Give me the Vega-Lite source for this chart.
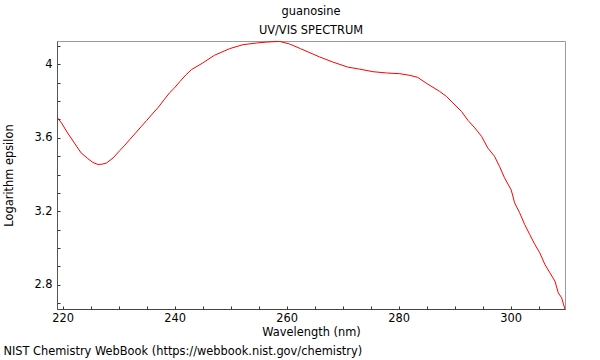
{
  "$schema": "https://vega.github.io/schema/vega-lite/v6.json",
  "padding": {"left": 3, "top": 5, "right": 34, "bottom": 0},
  "title": {"text": "NIST Chemistry WebBook (https://webbook.nist.gov/chemistry)", "orient": "bottom", "anchor": "start", "fontSize": 11.4, "fontWeight": "normal", "font": "DejaVu Sans", "color": "#000", "offset": 8},
  "vconcat": [
    {
      "width": 508,
      "height": 268,
      "title": {"text": "guanosine", "subtitle": "UV/VIS SPECTRUM", "fontSize": 11.4, "subtitleFontSize": 11.4, "fontWeight": "normal", "font": "DejaVu Sans", "subtitleFont": "DejaVu Sans", "color": "#000", "subtitleColor": "#000", "subtitlePadding": 7, "offset": 4, "anchor": "middle"},
      "data": {"values": [
        {"wl": 219.0, "le": 3.712}, {"wl": 219.8, "le": 3.681}, {"wl": 220.9, "le": 3.626}, {"wl": 222.1, "le": 3.572},
        {"wl": 223.3, "le": 3.518}, {"wl": 224.5, "le": 3.487}, {"wl": 225.4, "le": 3.466}, {"wl": 226.3, "le": 3.455},
        {"wl": 227.0, "le": 3.456}, {"wl": 227.8, "le": 3.462}, {"wl": 229.0, "le": 3.490}, {"wl": 230.2, "le": 3.530},
        {"wl": 231.0, "le": 3.556}, {"wl": 232.0, "le": 3.591}, {"wl": 233.0, "le": 3.625}, {"wl": 234.0, "le": 3.660},
        {"wl": 235.0, "le": 3.694}, {"wl": 236.0, "le": 3.729}, {"wl": 237.0, "le": 3.763}, {"wl": 238.2, "le": 3.810},
        {"wl": 239.1, "le": 3.845}, {"wl": 240.0, "le": 3.872}, {"wl": 240.9, "le": 3.905}, {"wl": 242.0, "le": 3.942},
        {"wl": 243.0, "le": 3.971}, {"wl": 245.0, "le": 4.007}, {"wl": 247.1, "le": 4.049}, {"wl": 249.8, "le": 4.085},
        {"wl": 252.2, "le": 4.107}, {"wl": 254.6, "le": 4.116}, {"wl": 256.4, "le": 4.121}, {"wl": 258.7, "le": 4.125},
        {"wl": 260.5, "le": 4.111}, {"wl": 262.5, "le": 4.085}, {"wl": 265.9, "le": 4.040}, {"wl": 268.2, "le": 4.013},
        {"wl": 270.9, "le": 3.985}, {"wl": 273.0, "le": 3.974}, {"wl": 275.4, "le": 3.960}, {"wl": 277.8, "le": 3.953},
        {"wl": 280.2, "le": 3.949}, {"wl": 282.0, "le": 3.940}, {"wl": 283.4, "le": 3.929}, {"wl": 284.9, "le": 3.898},
        {"wl": 287.3, "le": 3.853}, {"wl": 288.5, "le": 3.826}, {"wl": 289.7, "le": 3.790}, {"wl": 291.2, "le": 3.744},
        {"wl": 292.4, "le": 3.694}, {"wl": 293.6, "le": 3.654}, {"wl": 294.8, "le": 3.608}, {"wl": 295.9, "le": 3.545},
        {"wl": 297.1, "le": 3.500}, {"wl": 298.0, "le": 3.445}, {"wl": 298.9, "le": 3.382}, {"wl": 300.1, "le": 3.316},
        {"wl": 300.7, "le": 3.246}, {"wl": 301.6, "le": 3.192}, {"wl": 302.5, "le": 3.128}, {"wl": 303.4, "le": 3.074},
        {"wl": 304.3, "le": 3.020}, {"wl": 305.2, "le": 2.974}, {"wl": 306.1, "le": 2.911}, {"wl": 307.0, "le": 2.865},
        {"wl": 307.9, "le": 2.820}, {"wl": 308.5, "le": 2.756}, {"wl": 309.1, "le": 2.729}, {"wl": 309.7, "le": 2.666}
      ]},
      "mark": {"type": "line", "color": "#ff0000", "strokeWidth": 1, "clip": true},
      "encoding": {
        "x": {"field": "wl", "type": "quantitative", "title": "Wavelength (nm)",
          "scale": {"domain": [219, 309.7], "nice": false, "zero": false},
          "axis": {"values": [220, 225, 230, 235, 240, 245, 250, 255, 260, 265, 270, 275, 280, 285, 290, 295, 300, 305],
            "labelExpr": "datum.value % 20 == 0 ? datum.label : ''",
            "ticks": true, "tickSize": -3, "tickWidth": 1,
            "encode": {"ticks": {"update": {"y2": {"signal": "datum.value % 20 == 0 ? -6 : -3"}}}},
            "labelPadding": 6, "labelFlush": false, "labelOverlap": false, "grid": false,
            "domainColor": "#444", "tickColor": "#333", "labelColor": "#000", "titleColor": "#000",
            "labelFont": "DejaVu Sans", "titleFont": "DejaVu Sans", "labelFontSize": 11.4, "titleFontSize": 11.4, "titleFontWeight": "normal", "titlePadding": 3}},
        "y": {"field": "le", "type": "quantitative", "title": "Logarithm epsilon",
          "scale": {"domain": [2.668, 4.127], "nice": false, "zero": false},
          "axis": {"values": [2.7, 2.8, 2.9, 3.0, 3.1, 3.2, 3.3, 3.4, 3.5, 3.6, 3.7, 3.8, 3.9, 4.0, 4.1],
            "labelExpr": "round(datum.value * 10) % 4 == 0 ? format(datum.value, '~g') : ''",
            "ticks": true, "tickSize": -3, "tickWidth": 1,
            "encode": {"ticks": {"update": {"x2": {"signal": "round(datum.value * 10) % 4 == 0 ? 6 : 3"}}}},
            "labelPadding": 8, "labelFlush": false, "labelOverlap": false, "grid": false,
            "domainColor": "#555", "tickColor": "#333", "labelColor": "#000", "titleColor": "#000",
            "labelFont": "DejaVu Sans", "titleFont": "DejaVu Sans", "labelFontSize": 11.4, "titleFontSize": 11.4, "titleFontWeight": "normal", "titlePadding": 19}}
      }
    }
  ],
  "config": {"view": {"stroke": "#999"}, "font": "DejaVu Sans", "background": "white"}
}
